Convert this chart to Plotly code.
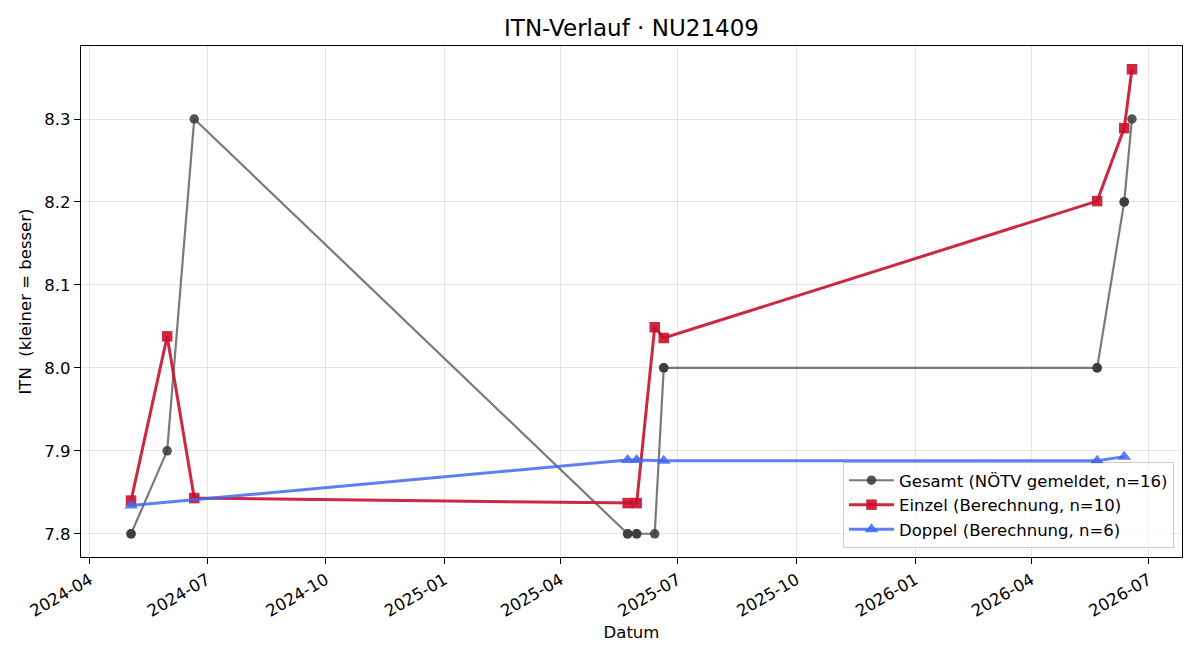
import plotly.graph_objects as go
import pandas as pd

# Gesamt (NÖTV gemeldet) – 16 entries, several on the same date
gesamt_dates = ["2024-05-03", "2024-05-03", "2024-05-31", "2024-06-21",
                "2025-05-23", "2025-05-23", "2025-05-30", "2025-05-30",
                "2025-06-13", "2025-06-20", "2025-06-20",
                "2026-05-22", "2026-05-22", "2026-06-12", "2026-06-12", "2026-06-18"]
gesamt_itn = [7.8, 7.8, 7.9, 8.3,
              7.8, 7.8, 7.8, 7.8,
              7.8, 8.0, 8.0,
              8.0, 8.0, 8.2, 8.2, 8.3]

einzel_dates = ["2024-05-03", "2024-05-31", "2024-06-21", "2025-05-23", "2025-05-30",
                "2025-06-13", "2025-06-20", "2026-05-22", "2026-06-12", "2026-06-18"]
einzel_itn = [7.840, 8.038, 7.843, 7.837, 7.837, 8.049, 8.036, 8.201, 8.289, 8.360]

doppel_dates = ["2024-05-03", "2025-05-23", "2025-05-30", "2025-06-20", "2026-05-22", "2026-06-12"]
doppel_itn = [7.834, 7.889, 7.889, 7.888, 7.888, 7.893]

tick_dates = ["2024-04-01", "2024-07-01", "2024-10-01", "2025-01-01", "2025-04-01",
              "2025-07-01", "2025-10-01", "2026-01-01", "2026-04-01", "2026-07-01"]
y_ticks = [7.8, 7.9, 8.0, 8.1, 8.2, 8.3]

FONT = "DejaVu Sans"
FS = 16.5

fig = go.Figure()
fig.add_trace(go.Scatter(
    x=gesamt_dates, y=gesamt_itn, mode="lines+markers",
    name="Gesamt (NÖTV gemeldet, n=16)",
    line=dict(color="rgba(85,85,85,0.78)", width=2.2),
    marker=dict(symbol="circle", size=9.5, color="rgba(60,60,60,0.88)",
                line=dict(width=0)),
))
fig.add_trace(go.Scatter(
    x=einzel_dates, y=einzel_itn, mode="lines+markers",
    name="Einzel (Berechnung, n=10)",
    line=dict(color="rgba(200,16,46,0.9)", width=3),
    marker=dict(symbol="square", size=10.5, color="rgba(200,16,46,0.9)",
                line=dict(width=0)),
))
fig.add_trace(go.Scatter(
    x=doppel_dates, y=doppel_itn, mode="lines+markers",
    name="Doppel (Berechnung, n=6)",
    line=dict(color="rgba(65,105,240,0.85)", width=3),
    marker=dict(symbol="triangle-up", size=12, color="rgba(65,105,240,0.85)",
                line=dict(width=0)),
))

# matplotlib-like 5% padding
all_x = pd.to_datetime(gesamt_dates + einzel_dates + doppel_dates)
xmin, xmax = all_x.min(), all_x.max()
pad = (xmax - xmin) * 0.05
all_y = gesamt_itn + einzel_itn + doppel_itn
ymin, ymax = min(all_y), max(all_y)
ypad = (ymax - ymin) * 0.05

axis_common = dict(
    showline=True, linecolor="black", linewidth=1.3, mirror=True,
    ticks="outside", ticklen=6, tickwidth=1.3, tickcolor="black",
    showgrid=True, gridcolor="rgba(0,0,0,0.1)", gridwidth=1,
    zeroline=False, tickfont=dict(family=FONT, size=FS, color="black"),
)

fig.update_layout(
    width=1200, height=660,
    paper_bgcolor="white", plot_bgcolor="white",
    margin=dict(l=81, r=18, t=46, b=103),
    font=dict(family=FONT, color="black"),
    title=dict(text="ITN-Verlauf · NU21409", x=(631.5) / 1200, xanchor="center",
               y=1 - 28 / 660, yanchor="middle", font=dict(family=FONT, size=23, color="black")),
    xaxis=dict(
        **axis_common,
        type="date",
        range=[xmin - pad, xmax + pad],
        tickvals=tick_dates, ticktext=[d[:7] for d in tick_dates],
        tickangle=-30,
        title=dict(text="Datum", font=dict(family=FONT, size=FS), standoff=6),
    ),
    yaxis=dict(
        **axis_common,
        range=[ymin - ypad, ymax + ypad],
        tickvals=y_ticks,
        tickformat=".1f",
        title=dict(text="ITN\u00a0 (kleiner = besser)", font=dict(family=FONT, size=FS), standoff=8),
    ),
    legend=dict(
        x=0.9927, y=0.0176, xanchor="right", yanchor="bottom",
        bgcolor="rgba(255,255,255,0.8)", bordercolor="rgba(0,0,0,0.2)", borderwidth=1,
        font=dict(family=FONT, size=FS), tracegroupgap=0, itemwidth=45,
    ),
    showlegend=True,
)

fig.write_html("out.html")
